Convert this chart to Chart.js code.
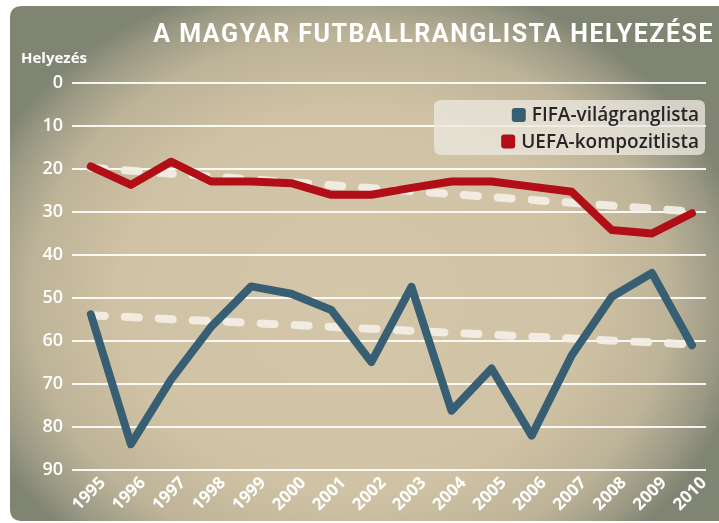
<!DOCTYPE html>
<html>
<head>
<meta charset="utf-8">
<script src="https://cdn.jsdelivr.net/npm/chart.js@4.4.1/dist/chart.umd.min.js"></script>
<style>
  html, body { margin: 0; padding: 0; background: #ffffff; }
  #wrap { width: 719px; height: 523px; position: relative; }
</style>
</head>
<body>
<div id="wrap"><canvas id="c" width="719" height="523"></canvas></div>
<script>
const titleText = 'A MAGYAR FUTBALLRANGLISTA HELYEZÉSE';
const yAxisLabel = 'Helyezés';
const years = [1995, 1996, 1997, 1998, 1999, 2000, 2001, 2002, 2003, 2004, 2005, 2006, 2007, 2008, 2009, 2010];
const fifaLabel = 'FIFA-világranglista';
const uefaLabel = 'UEFA-kompozitlista';
const fifaRank = [53.8, 84, 69, 56.7, 47.3, 49, 52.8, 64.9, 47.4, 76.2, 66.4, 82, 63.3, 49.7, 44.2, 61];
const uefaRank = [19.4, 23.7, 18.3, 22.9, 22.9, 23.3, 26, 26, 24.4, 22.9, 22.9, 24.1, 25.3, 34.2, 35, 30.3];
const trendYears = [1995, 2010];
const fifaTrend = [54, 60.8];
const uefaTrend = [19.7, 29.9];
const yTicks = [0, 10, 20, 30, 40, 50, 60, 70, 80, 90];

const BLUE = '#375e72';
const RED = '#b20e17';
const TREND = 'rgba(243,239,230,0.92)';

function pts(xs, ys) { return xs.map((x, i) => ({ x: x, y: ys[i] })); }

function roundRect(ctx, x, y, w, h, r) {
  ctx.beginPath();
  ctx.moveTo(x + r, y);
  ctx.lineTo(x + w - r, y);
  ctx.quadraticCurveTo(x + w, y, x + w, y + r);
  ctx.lineTo(x + w, y + h - r);
  ctx.quadraticCurveTo(x + w, y + h, x + w - r, y + h);
  ctx.lineTo(x + r, y + h);
  ctx.quadraticCurveTo(x, y + h, x, y + h - r);
  ctx.lineTo(x, y + r);
  ctx.quadraticCurveTo(x, y, x + r, y);
  ctx.closePath();
}

const decor = {
  id: 'decor',
  beforeDraw(chart) {
    const ctx = chart.ctx;
    ctx.save();
    ctx.fillStyle = '#ffffff';
    ctx.fillRect(0, 0, chart.width, chart.height);
    roundRect(ctx, 10, 6, 722, 515, 12);
    ctx.clip();
    const cx = 350, cy = 300, rx = 400, ry = 330;
    ctx.translate(cx, cy);
    ctx.scale(1, ry / rx);
    const g = ctx.createRadialGradient(0, 0, 0, 0, 0, rx);
    g.addColorStop(0, '#d4c6a9');
    g.addColorStop(0.58, '#d0c2a4');
    g.addColorStop(0.8, '#bdb398');
    g.addColorStop(0.93, '#9a9984');
    g.addColorStop(1, '#808573');
    ctx.fillStyle = g;
    ctx.fillRect(-rx * 1.5, -rx * 1.5, rx * 3, rx * 3);
    ctx.restore();

    ctx.save();
    ctx.fillStyle = '#ffffff';
    ctx.textBaseline = 'alphabetic';
    ctx.textAlign = 'right';
    ctx.font = 'bold 25px Roboto';
    try { ctx.letterSpacing = '1.5px'; } catch (e) {}
    ctx.fillText(titleText, 714, 42);
    try { ctx.letterSpacing = '0px'; } catch (e) {}
    ctx.textAlign = 'left';
    ctx.font = 'bold 15px "Open Sans"';
    ctx.fillText(yAxisLabel, 21, 63);
    ctx.restore();
  },
  beforeDatasetsDraw(chart) {
    const ctx = chart.ctx;
    ctx.save();
    roundRect(ctx, 434, 100, 271, 55, 7);
    ctx.fillStyle = 'rgba(236,232,223,0.78)';
    ctx.fill();
    const items = chart.data.datasets.filter(d => !d.isTrend);
    ctx.font = '600 19px "Open Sans"';
    ctx.textAlign = 'right';
    ctx.textBaseline = 'middle';
    items.forEach((d, i) => {
      const yc = 115 + i * 26.5;
      const tx = 699;
      ctx.fillStyle = '#262626';
      ctx.fillText(d.label, tx, yc + 1);
      const w = ctx.measureText(d.label).width;
      ctx.fillStyle = d.borderColor;
      roundRect(ctx, tx - w - 20, yc - 7, 14, 14, 3);
      ctx.fill();
    });
    ctx.restore();
  }
};

new Chart(document.getElementById('c'), {
  type: 'line',
  data: {
    datasets: [
      { label: fifaLabel, data: pts(years, fifaRank), borderColor: BLUE, backgroundColor: BLUE,
        borderWidth: 8, pointRadius: 0, tension: 0, borderCapStyle: 'round', borderJoinStyle: 'round' },
      { label: uefaLabel, data: pts(years, uefaRank), borderColor: RED, backgroundColor: RED,
        borderWidth: 8, pointRadius: 0, tension: 0, borderCapStyle: 'round', borderJoinStyle: 'round' },
      { label: 'FIFA trend', isTrend: true, data: pts(trendYears, fifaTrend), borderColor: TREND,
        borderWidth: 8, pointRadius: 0, borderDash: [14, 20], borderCapStyle: 'round' },
      { label: 'UEFA trend', isTrend: true, data: pts(trendYears, uefaTrend), borderColor: TREND,
        borderWidth: 8, pointRadius: 0, borderDash: [14, 20], borderCapStyle: 'round' }
    ]
  },
  options: {
    responsive: false,
    animation: false,
    devicePixelRatio: 1,
    layout: { padding: { left: 0, right: 13, top: 83, bottom: 0 } },
    plugins: { legend: { display: false }, tooltip: { enabled: false }, title: { display: false } },
    scales: {
      x: {
        type: 'linear',
        min: 1994.53,
        max: 2010.35,
        afterFit(s) { s.height = 53; },
        grid: { display: false, drawTicks: false },
        border: { display: false },
        afterBuildTicks(s) { s.ticks = years.map(v => ({ value: v })); },
        ticks: {
          includeBounds: false,
          stepSize: 1,
          minRotation: 45,
          maxRotation: 45,
          autoSkip: false,
          padding: 3,
          labelOffset: 12,
          color: '#ffffff',
          font: { family: '"Open Sans"', size: 17, weight: 'bold' },
          callback: v => String(v)
        }
      },
      y: {
        reverse: true,
        min: 0,
        max: 90,
        afterFit(s) { s.width = 72; },
        afterBuildTicks(s) { s.ticks = yTicks.map(v => ({ value: v })); },
        grid: { color: 'rgba(255,255,255,0.9)', lineWidth: 2, drawTicks: false },
        border: { display: false },
        ticks: {
          padding: 9,
          color: '#ffffff',
          font: { family: '"Open Sans"', size: 18, weight: '600' },
          callback: v => String(v)
        }
      }
    }
  },
  plugins: [decor]
});
</script>
</body>
</html>
